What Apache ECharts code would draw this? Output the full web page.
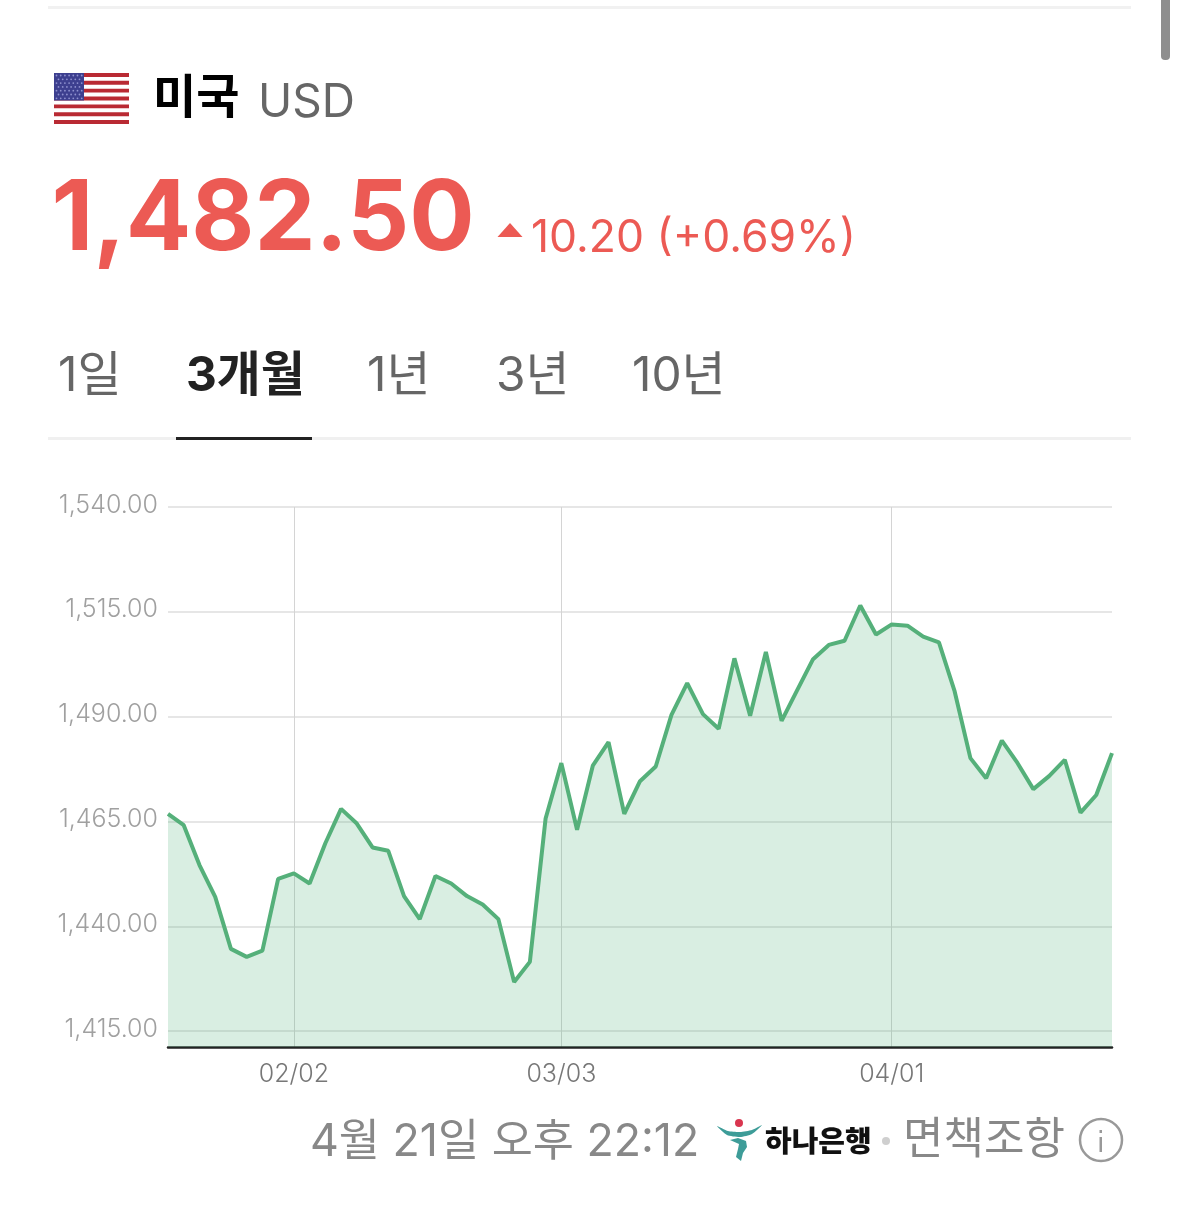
<!DOCTYPE html>
<html><head><meta charset="utf-8">
<style>html,body{margin:0;padding:0;background:#fff}#c{width:1179px;height:1221px}</style>
<script src="https://cdn.jsdelivr.net/npm/echarts@6/dist/echarts.min.js"></script>
</head><body><div id="c"></div>
<script>
const dates=["01/21","01/22","01/23","01/26","01/27","01/28","01/29","01/30","02/02","02/03","02/04","02/05","02/06","02/09","02/10","02/11","02/12","02/13","02/19","02/20","02/23","02/24","02/25","02/26","02/27","03/03","03/04","03/05","03/06","03/09","03/10","03/11","03/12","03/13","03/16","03/17","03/18","03/19","03/20","03/23","03/24","03/25","03/26","03/27","03/30","03/31","04/01","04/02","04/03","04/06","04/07","04/08","04/09","04/10","04/13","04/14","04/15","04/16","04/17","04/20","04/21"];
const rates=[1466.8,1464.1,1454.6,1447.0,1434.6,1432.7,1434.2,1451.3,1452.6,1450.2,1459.8,1468.0,1464.5,1458.8,1458.0,1447.2,1441.7,1452.0,1450.2,1447.2,1445.2,1441.7,1426.7,1431.5,1465.7,1478.9,1463.0,1478.3,1483.9,1466.8,1474.6,1478.1,1490.4,1498.0,1490.6,1487.1,1503.9,1490.2,1505.4,1489.0,1496.4,1503.7,1507.1,1508.1,1516.5,1509.6,1512.0,1511.7,1509.1,1507.7,1496.0,1480.1,1475.3,1484.3,1478.9,1472.7,1475.8,1479.7,1467.1,1471.3,1481.3];
const xTicks=["02/02","03/03","04/01"];
const yTicks=[1415,1440,1465,1490,1515,1540];
const tabs=[["1일",58,false],["3개월",186,true],["1년",367,false],["3년",496,false],["10년",632,false]];

const LATIN="Inter,'Noto Sans CJK KR',sans-serif";
const T=(x,y,text,size,fill,weight,extra)=>({type:'text',x,y,silent:true,style:Object.assign({text,fontSize:size,fill,fontWeight:weight||400,fontFamily:LATIN,verticalAlign:'middle'},extra||{})});
const R=(x,y,w,h,fill,r)=>({type:'rect',silent:true,shape:{x,y,width:w,height:h,r:r||0},style:{fill}});

const flag=[R(54,73,75,51,'#fff')];
for(let i=0;i<13;i+=2)flag.push(R(54,73+i*51/13,75,51/13,'#b92a33'));
flag.push(R(54,73,30,27.5,'#3d3f8f'));
for(let r=0;r<7;r++)for(let c=0;c<(r%2?6:7);c++)flag.push({type:'circle',silent:true,shape:{cx:56.5+(r%2?2:0)+c*4.2,cy:75.5+r*3.8,r:0.9},style:{fill:'#8f91cf'}});

const graphics=[
 R(48,6,1083,3,'#f1f1f1'),
 R(1161,0,9,60,'#8e8e8e',[0,0,4,4]),
 ...flag,
 T(153,99,"미국",47,'#000',700),
 T(258,103,"USD",46,'#666',400),
 T(51.5,221,"1,482.50",97,'#ec5a54',700),
 {type:'polygon',silent:true,shape:{points:[[510,223],[522.5,237],[497.5,237]]},style:{fill:'#ec5a54'}},
 T(531,239,"10.20 (+0.69%)",44.5,'#ec5a54',400),
 ...tabs.map(t=>T(t[1],377,t[0],47.8,t[2]?'#222':'#666',t[2]?700:400)),
 R(48,437,1083,3,'#f0f0f0'),
 R(176,437,136,3,'#222'),
 T(310,1143,"4월 21일 오후 22:12",44.7,'#888',400),
 {type:'polygon',silent:true,shape:{points:[[717,1126],[728,1131],[740,1132],[752,1130],[762,1125],[752,1134],[740,1137],[727,1135]],smooth:0.2},style:{fill:'#3d9c98'}},
 {type:'polygon',silent:true,shape:{points:[[730,1140],[738,1138],[746,1141],[747,1147],[743,1153],[741,1161],[736,1157],[738,1149],[739,1144]]},style:{fill:'#3d9c98'}},
 {type:'circle',silent:true,shape:{cx:739,cy:1123,r:4},style:{fill:'#d9364f'}},
 T(765,1143,"하나은행",29,'#111',900),
 {type:'circle',silent:true,shape:{cx:886,cy:1141,r:4},style:{fill:'#cfcfcf'}},
 T(903,1141,"면책조항",44,'#888',400),
 {type:'circle',silent:true,shape:{cx:1101,cy:1140,r:21},style:{fill:'none',stroke:'#999',lineWidth:2.5}},
 R(1099.5,1137,2.5,15,'#999'),
 R(1099.5,1130,2.5,3,'#999')
];

const chart=echarts.init(document.getElementById('c'));
chart.setOption({
 animation:false,
 backgroundColor:'#fff',
 grid:{left:168,right:67,top:507,bottom:174,containLabel:false},
 xAxis:{type:'category',data:dates,boundaryGap:false,
  axisLine:{show:true,lineStyle:{color:'#222',width:2.5}},
  axisTick:{show:false},
  axisLabel:{interval:(i,v)=>xTicks.includes(v),color:'#777',fontSize:25,fontFamily:LATIN,margin:15,fontWeight:300},
  splitLine:{show:true,interval:(i,v)=>xTicks.includes(v),lineStyle:{color:'#d4d4d4',width:1}}},
 yAxis:{type:'value',min:1411.2,max:1540,
  axisLine:{show:false},
  axisTick:{show:false,customValues:yTicks},
  axisLabel:{customValues:yTicks,margin:10,
   formatter:v=>'{a|'+v.toLocaleString('en-US',{minimumFractionDigits:2,maximumFractionDigits:2})+'}',
   rich:{a:{color:'#a0a0a0',fontSize:25,fontFamily:LATIN,fontWeight:300,padding:[0,0,4,0]}}},
  splitLine:{show:true,lineStyle:{color:'#e6e6e6',width:2}}},
 series:[{type:'line',data:rates,symbol:'none',smooth:false,
  lineStyle:{color:'#55b07a',width:4},
  areaStyle:{color:'rgba(84,176,122,0.22)',opacity:1,origin:'start'}}],
 graphic:{elements:graphics}
});
</script></body></html>
